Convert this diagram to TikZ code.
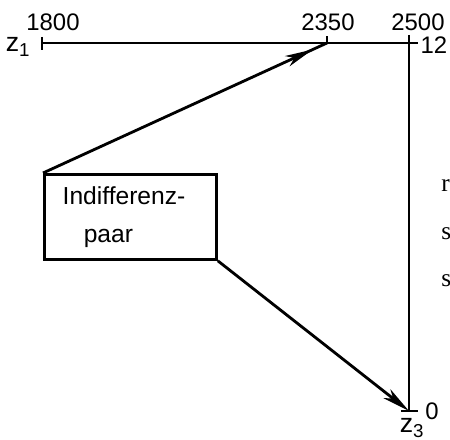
\documentclass[tikz,border=0pt]{standalone}
\usepackage{fontspec}
\setmainfont{Liberation Sans}
\newfontfamily\cutfont{Liberation Serif}
\usetikzlibrary{arrows.meta,positioning,decorations.markings}

\begin{document}
\begin{tikzpicture}[
        x=0.025cm, y=-0.025cm,
        axis/.style={line width=2pt},
        tick/.style={line width=2pt},
        arrow/.style={line width=2pt, -{Stealth[length=7mm,width=2.8mm,inset=2mm]}},
        midarrow/.style={line width=2pt, decoration={markings,
            mark=at position 0.95 with {\arrow{Stealth[length=7mm,width=2.8mm,inset=2mm]}}},
            postaction={decorate}},
        box/.style={rectangle, draw, line width=2pt, minimum height=85*0.025cm,
            text width=172*0.025cm, align=left, inner sep=0pt,
            font=\fontsize{17.5}{27}\selectfont},
        num/.style={font=\fontsize{17}{19}\selectfont, inner sep=1pt},
        cut/.style={font=\cutfont\fontsize{18}{20}\selectfont, anchor=west, inner sep=0pt}
    ]
        \useasboundingbox (0,0) rectangle (450,440);

        % Scale z1
        \coordinate (z1left) at (42,43);
        \coordinate (z1right) at (418,43);
        \coordinate (t2350) at (327,43);
        \draw[axis] (z1left) -- (z1right);
        \draw[tick] (42,37) -- (42,50);
        \draw[tick] (t2350) -- (327,36);
        \node[num] (l1800) at (53,22) {1800};
        \node[num] (l2350) at (328,22) {2350};
        \node[num] (l2500) at (418,22) {2500};
        \node[num, font=\fontsize{19}{21}\selectfont] (lz1) at (18,47) {z\textsubscript{1}};
        \node[num, anchor=west] (l12) at (419,45) {12};

        % Scale z3
        \coordinate (z3top) at (409,35);
        \coordinate (z3bottom) at (409,411);
        \draw[axis] (z3top) -- (z3bottom);
        \draw[tick] (401,411) -- (418,411);
        \node[num] (l0) at (432,411) {0};
        \node[num, font=\fontsize{19}{21}\selectfont] (lz3) at (412,428) {z\textsubscript{3}};

        % Pair
        \node[box, anchor=north west] (pair) at (43,173)
            {\hspace*{13pt}Indifferenz-\\\hspace*{28pt}paar};

        % Arrows
        \draw[midarrow] (pair.north west) -- (t2350);
        \draw[arrow] (pair.south east) -- (z3bottom);

        % Cut text at the edge
        \begin{scope}
            \clip (0,0) rectangle (450,440);
            \node[cut] (c1) at (441,186) {r};
            \node[cut] (c2) at (441,234) {s};
            \node[cut] (c3) at (441,281) {s};
        \end{scope}
\end{tikzpicture}
\end{document}
